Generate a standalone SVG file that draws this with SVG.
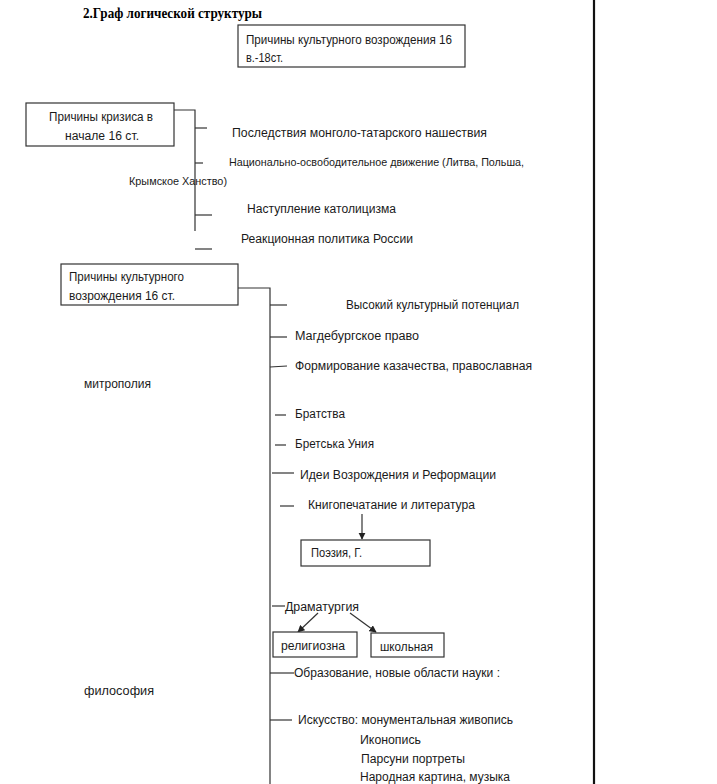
<svg xmlns="http://www.w3.org/2000/svg" width="717" height="784" viewBox="0 0 717 784">
<style>
.t{font-family:"Liberation Sans","DejaVu Sans",sans-serif;font-size:12.5px;fill:#1a1a1a}
.s{font-size:11px}
.title{font-family:"Liberation Serif",serif;font-size:14.5px;font-weight:bold;fill:#000}
.box{fill:#fff;stroke:#333;stroke-width:1.2}
.ln{stroke:#333;stroke-width:1.2;fill:none}
</style>
<defs>
<marker id="ah" viewBox="0 0 10 10" refX="9" refY="5" markerWidth="6" markerHeight="6" orient="auto">
<path d="M0,0 L10,5 L0,10 z" fill="#222"/>
</marker>
</defs>
<rect width="717" height="784" fill="#fff"/>
<text class="title" x="83" y="18" textLength="179" lengthAdjust="spacingAndGlyphs">2.Граф логической структуры</text>
<line x1="594" y1="0" x2="594" y2="784" stroke="#111" stroke-width="2.2"/>

<g id="connectors">
<polyline class="ln" points="174,110 195,110 195,231"/>
<line class="ln" x1="195" y1="128" x2="207" y2="128"/>
<line class="ln" x1="195" y1="163" x2="203" y2="163"/>
<line class="ln" x1="195" y1="215" x2="212" y2="215"/>
<line class="ln" x1="195" y1="249" x2="212" y2="249"/>
<polyline class="ln" points="238,288 270,288 270,784"/>
<line class="ln" x1="270" y1="305" x2="287" y2="305"/>
<line class="ln" x1="270" y1="337" x2="287" y2="337"/>
<line class="ln" x1="270" y1="367" x2="287" y2="366"/>
<line class="ln" x1="275" y1="415" x2="286" y2="415"/>
<line class="ln" x1="275" y1="445" x2="286" y2="445"/>
<line class="ln" x1="272" y1="473" x2="294" y2="473"/>
<line class="ln" x1="280" y1="506" x2="294" y2="506"/>
<line class="ln" x1="362" y1="514" x2="362" y2="539" marker-end="url(#ah)"/>
<line class="ln" x1="272" y1="606" x2="285" y2="606"/>
<line class="ln" x1="318" y1="613" x2="298" y2="632" marker-end="url(#ah)"/>
<line class="ln" x1="350" y1="613" x2="376" y2="632" marker-end="url(#ah)"/>
<line class="ln" x1="270" y1="673" x2="294" y2="673"/>
<line class="ln" x1="270" y1="720" x2="292" y2="720"/>
</g>

<g id="n-top">
<rect class="box" x="238" y="25" width="227" height="42"/>
<text class="t" x="246" y="44" textLength="206" lengthAdjust="spacingAndGlyphs">Причины культурного возрождения 16</text>
<text class="t" x="246" y="62" textLength="37" lengthAdjust="spacingAndGlyphs">в.-18ст.</text>
</g>

<g id="n-crisis">
<rect class="box" x="26" y="103" width="148" height="43"/>
<text class="t" x="49" y="121" textLength="104" lengthAdjust="spacingAndGlyphs">Причины кризиса в</text>
<text class="t" x="65" y="140" textLength="74" lengthAdjust="spacingAndGlyphs">начале 16 ст.</text>
</g>
<g id="n-c1"><text class="t" x="232" y="137" textLength="255" lengthAdjust="spacingAndGlyphs">Последствия монголо-татарского нашествия</text></g>
<g id="n-c2">
<text class="t s" x="229" y="166" textLength="295" lengthAdjust="spacingAndGlyphs">Национально-освободительное движение (Литва, Польша,</text>
<text class="t s" x="129" y="185" textLength="98" lengthAdjust="spacingAndGlyphs">Крымское Ханство)</text>
</g>
<g id="n-c3"><text class="t" x="247" y="213" textLength="149" lengthAdjust="spacingAndGlyphs">Наступление католицизма</text></g>
<g id="n-c4"><text class="t" x="241" y="243" textLength="172" lengthAdjust="spacingAndGlyphs">Реакционная политика России</text></g>

<g id="n-revival">
<rect class="box" x="61" y="264" width="177" height="41"/>
<text class="t" x="69" y="281" textLength="115" lengthAdjust="spacingAndGlyphs">Причины культурного</text>
<text class="t" x="69" y="300" textLength="106" lengthAdjust="spacingAndGlyphs">возрождения 16 ст.</text>
</g>
<g id="n-r1"><text class="t" x="346" y="309" textLength="173" lengthAdjust="spacingAndGlyphs">Высокий культурный потенциал</text></g>
<g id="n-r2"><text class="t" x="295" y="340" textLength="124" lengthAdjust="spacingAndGlyphs">Магдебургское право</text></g>
<g id="n-r3">
<text class="t" x="295" y="370" textLength="237" lengthAdjust="spacingAndGlyphs">Формирование казачества, православная</text>
<text class="t" x="84" y="388" textLength="67" lengthAdjust="spacingAndGlyphs">митрополия</text>
</g>
<g id="n-r4"><text class="t" x="295" y="418" textLength="50" lengthAdjust="spacingAndGlyphs">Братства</text></g>
<g id="n-r5"><text class="t" x="295" y="448" textLength="79" lengthAdjust="spacingAndGlyphs">Бретська Уния</text></g>
<g id="n-r6"><text class="t" x="300" y="479" textLength="196" lengthAdjust="spacingAndGlyphs">Идеи Возрождения и Реформации</text></g>
<g id="n-r7"><text class="t" x="308" y="509" textLength="167" lengthAdjust="spacingAndGlyphs">Книгопечатание и литература</text></g>
<g id="n-poetry">
<rect class="box" x="301" y="540" width="129" height="26"/>
<text class="t" x="311" y="557" textLength="51" lengthAdjust="spacingAndGlyphs">Поэзия, Г.</text>
</g>
<g id="n-drama"><text class="t" x="285" y="611" textLength="74" lengthAdjust="spacingAndGlyphs">Драматургия</text></g>
<g id="n-relig">
<rect class="box" x="273" y="632" width="84" height="25"/>
<text class="t" x="281" y="650" textLength="64" lengthAdjust="spacingAndGlyphs">религиозна</text>
</g>
<g id="n-school">
<rect class="box" x="371" y="633" width="73" height="24"/>
<text class="t" x="380" y="651" textLength="53" lengthAdjust="spacingAndGlyphs">школьная</text>
</g>
<g id="n-r8">
<text class="t" x="294" y="677" textLength="206" lengthAdjust="spacingAndGlyphs">Образование, новые области науки :</text>
<text class="t" x="84" y="695" textLength="70" lengthAdjust="spacingAndGlyphs">философия</text>
</g>
<g id="n-r9">
<text class="t" x="298" y="724" textLength="215" lengthAdjust="spacingAndGlyphs">Искусство: монументальная живопись</text>
<text class="t" x="360" y="744" textLength="61" lengthAdjust="spacingAndGlyphs">Иконопись</text>
<text class="t" x="361" y="763" textLength="104" lengthAdjust="spacingAndGlyphs">Парсуни портреты</text>
<text class="t" x="360" y="781" textLength="150" lengthAdjust="spacingAndGlyphs">Народная картина, музыка</text>
</g>
</svg>
